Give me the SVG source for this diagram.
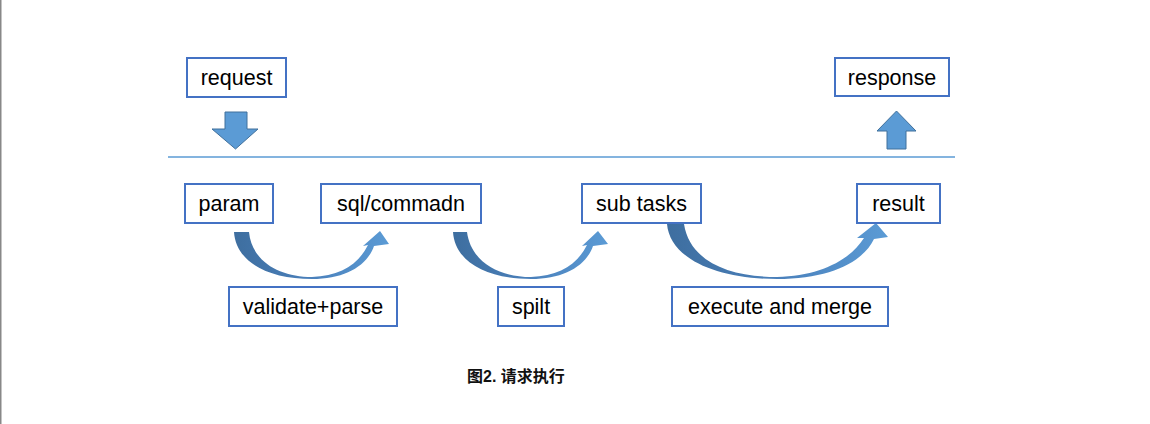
<svg xmlns="http://www.w3.org/2000/svg" width="1150" height="424" viewBox="0 0 1150 424">
<style>
.box{fill:#fff;stroke:#4472c4;stroke-width:2}
.lbl{font-family:"Liberation Sans",Arial,sans-serif;font-size:21.5px;fill:#000;text-anchor:middle}
.blk{fill:#5b9bd5;stroke:#41719c;stroke-width:1}
.cap{font-family:"Liberation Sans","Noto Sans CJK SC",sans-serif;font-size:16px;font-weight:bold;fill:#111}
</style>
<defs>
<linearGradient id="g" x1="0" y1="0" x2="1" y2="0">
<stop offset="0" stop-color="#3e6e9f"/>
<stop offset="0.5" stop-color="#4a80bb"/>
<stop offset="1" stop-color="#5b9bd5"/>
</linearGradient>
</defs>
<rect x="0" y="0" width="1150" height="424" fill="#fff"/>
<rect x="0" y="0" width="1.5" height="424" fill="#888"/>
<line x1="168" y1="157" x2="955" y2="157" stroke="#5b9bd5" stroke-width="1.5"/>

<g id="connectors">
<path id="down-arrow" class="blk" d="M225,112 L247,112 L247,129 L258,129 L235.5,149 L212,129 L225,129 Z"/>
<path id="up-arrow" class="blk" d="M896.5,111 L916,131 L906,131 L906,149 L887,149 L887,131 L877,131 Z"/>
<path id="curve1" fill="url(#g)" d="M234,232 C236,262 268,279 312,279 C345,279 367,266 374,246 L389,244 L380,231 L363,246 L368,245 C358,265 340,276 312,277 C280,277 252,262 249,232 Z"/>
<path id="curve2" fill="url(#g)" d="M453,232 C455,262 487,279 531,279 C564,279 586,266 593,246 L608,244 L598,231 L582,246 L587,245 C577,265 559,276 531,277 C499,277 471,262 467,232 Z"/>
<path id="curve3" fill="url(#g)" d="M667,224 C670,258 715,279 777,279 C830,279 863,262 874,239 L888,237 L876,223 L857,238 L864,238 C850,260 820,276 777,277 C730,277 690,262 684,224 Z"/>
</g>

<g id="request"><rect class="box" x="187" y="58" width="99" height="39"/><text class="lbl" x="236.5" y="85">request</text></g>
<g id="response"><rect class="box" x="835" y="58" width="114" height="38"/><text class="lbl" x="892" y="85">response</text></g>
<g id="param"><rect class="box" x="185" y="184" width="88" height="39"/><text class="lbl" x="229" y="211">param</text></g>
<g id="sql"><rect class="box" x="321" y="184" width="160" height="39"/><text class="lbl" x="401" y="211">sql/commadn</text></g>
<g id="subtasks"><rect class="box" x="582" y="184" width="119" height="39"/><text class="lbl" x="641.5" y="211">sub tasks</text></g>
<g id="result"><rect class="box" x="857" y="184" width="83" height="39"/><text class="lbl" x="898.5" y="211">result</text></g>
<g id="validate"><rect class="box" x="229" y="287" width="168" height="39"/><text class="lbl" x="313" y="314">validate+parse</text></g>
<g id="spilt"><rect class="box" x="498" y="287" width="66" height="39"/><text class="lbl" x="531" y="314">spilt</text></g>
<g id="execute"><rect class="box" x="672" y="287" width="216" height="39"/><text class="lbl" x="780" y="314">execute and merge</text></g>

<text class="cap" x="467" y="382">图2. 请求执行</text>
</svg>
